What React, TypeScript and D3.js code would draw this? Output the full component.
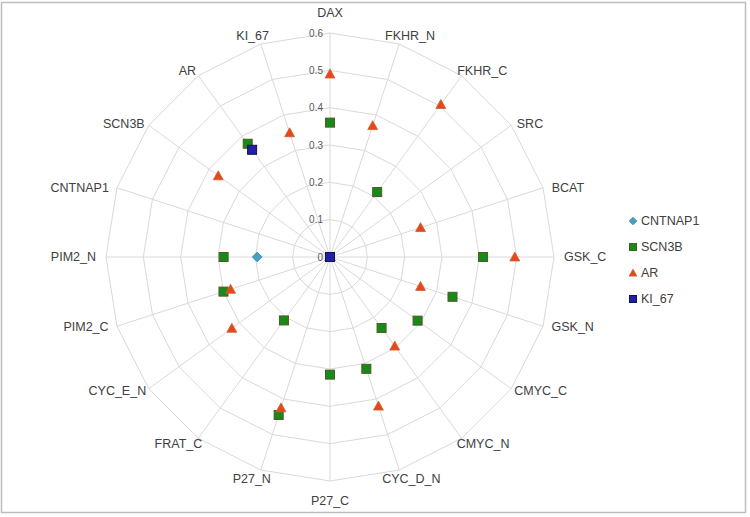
import React, { useEffect, useRef } from "react";
import * as d3 from "d3";

const axes = [
  "DAX", "FKHR_N", "FKHR_C", "SRC", "BCAT", "GSK_C", "GSK_N", "CMYC_C", "CMYC_N", "CYC_D_N",
  "P27_C", "P27_N", "FRAT_C", "CYC_E_N", "PIM2_C", "PIM2_N", "CNTNAP1", "SCN3B", "AR", "KI_67",
];
const ticks = [0, 0.1, 0.2, 0.3, 0.4, 0.5, 0.6];

const cntnap1 = [0, 0, 0, 0, 0, 0, 0, 0, 0, 0, 0, 0, 0, 0, 0, 0.195, 0, 0, 0, 0];
const scn3b = [0.36, 0, 0.215, 0, 0, 0.41, 0.345, 0.29, 0.235, 0.315, 0.315, 0.445, 0.21, 0, 0.3, 0.285, 0, 0, 0.375, 0];
const ar = [0.49, 0.37, 0.505, 0, 0.255, 0.495, 0.255, 0, 0.295, 0.42, 0, 0.425, 0, 0.325, 0.28, 0, 0, 0.37, 0, 0.35];
const ki67 = [0, 0, 0, 0, 0, 0, 0, 0, 0, 0, 0, 0, 0, 0, 0, 0, 0, 0, 0.355, 0];

const seriesNames = ["CNTNAP1", "SCN3B", "AR", "KI_67"];
const seriesValues = [cntnap1, scn3b, ar, ki67];

const App = () => {
  const svgRef = useRef<SVGSVGElement>(null);

  useEffect(() => {
    const width = 750;
    const height = 517;
    const cx = 330;
    const cy = 257;
    const R = 224;
    const font = "'Liberation Sans', Arial, sans-serif";

    const svg = d3.select(svgRef.current)
      .attr("width", width)
      .attr("height", height);
    svg.selectAll("*").remove();

    svg.append("rect")
      .attr("x", 1.5).attr("y", 2.5)
      .attr("width", 744).attr("height", 510)
      .attr("fill", "#fff")
      .attr("stroke", "#bdbdbd")
      .attr("stroke-width", 1.5);

    const r = d3.scaleLinear().domain([0, 0.6]).range([0, R]);
    const angle = d3.scaleLinear().domain([0, axes.length]).range([0, 2 * Math.PI]);

    const g = svg.append("g").attr("transform", `translate(${cx},${cy})`);

    // rings
    const ring = d3.lineRadial<number>()
      .angle((_, i) => angle(i))
      .radius(d => r(d))
      .curve(d3.curveLinearClosed);
    ticks.slice(1).forEach(t => {
      g.append("path")
        .datum(axes.map(() => t))
        .attr("d", ring)
        .attr("fill", "none")
        .attr("stroke", "#d9d9d9")
        .attr("stroke-width", 1);
    });

    // spokes
    axes.forEach((_, i) => {
      const a = angle(i);
      g.append("line")
        .attr("x1", 0).attr("y1", 0)
        .attr("x2", r(0.6) * Math.sin(a))
        .attr("y2", -r(0.6) * Math.cos(a))
        .attr("stroke", "#d9d9d9")
        .attr("stroke-width", 1);
    });

    // tick labels
    ticks.forEach(t => {
      g.append("text")
        .attr("x", -7)
        .attr("y", -r(t))
        .attr("dy", "0.35em")
        .attr("text-anchor", "end")
        .attr("font-family", font)
        .attr("font-size", 10)
        .attr("fill", "#595959")
        .text(t === 0 ? "0" : t.toFixed(1));
    });

    // axis labels
    axes.forEach((name, i) => {
      const a = angle(i);
      const s = Math.sin(a);
      const c = Math.cos(a);
      const t = g.append("text")
        .attr("text-anchor", "middle")
        .attr("dy", "0.35em")
        .attr("font-family", font)
        .attr("font-size", 12.5)
        .attr("fill", "#404040")
        .text(name);
      const w = (t.node() as SVGTextElement).getComputedTextLength();
      const vx = R * s;
      const vy = -R * c;
      const offY = Math.abs(c) > 0.99 ? c * 20 : Math.sign(c) * Math.pow(Math.abs(c), 3) * 10;
      t.attr("x", vx + s * (w / 2 + 10)).attr("y", vy - offY);
    });

    const pt = (v: number, i: number): [number, number] => [
      r(v) * Math.sin(angle(i)),
      -r(v) * Math.cos(angle(i)),
    ];

    const drawMarker = (sel: any, k: number, size: number) => {
      if (k === 0) {
        const s = size * 0.55;
        sel.append("path")
          .attr("d", `M0,${-s}L${s},0L0,${s}L${-s},0Z`)
          .attr("fill", "#4a9fc2").attr("stroke", "#3b8aa8").attr("stroke-width", 0.8);
      } else if (k === 1) {
        sel.append("rect")
          .attr("x", -size / 2).attr("y", -size / 2)
          .attr("width", size).attr("height", size)
          .attr("fill", "#178a17").attr("stroke", "#4b5a22").attr("stroke-width", 1);
      } else if (k === 2) {
        const s = size * 0.55;
        sel.append("path")
          .attr("d", `M0,${-s}L${s},${s * 0.8}L${-s},${s * 0.8}Z`)
          .attr("fill", "#e8461b").attr("stroke", "#c8612e").attr("stroke-width", 0.8);
      } else {
        sel.append("rect")
          .attr("x", -size / 2).attr("y", -size / 2)
          .attr("width", size).attr("height", size)
          .attr("fill", "#2121a6").attr("stroke", "#101050").attr("stroke-width", 1);
      }
    };

    // points
    seriesValues.forEach((vals, k) => {
      vals.forEach((v, i) => {
        const [x, y] = pt(v, i);
        const m = g.append("g").attr("transform", `translate(${x},${y})`);
        drawMarker(m, k, 9);
      });
    });

    // legend
    const legend = svg.append("g").attr("transform", "translate(633,221)");
    seriesNames.forEach((name, k) => {
      const row = legend.append("g").attr("transform", `translate(0,${k * 26})`);
      drawMarker(row, k, 7);
      row.append("text")
        .attr("x", 8)
        .attr("dy", "0.35em")
        .attr("font-family", font)
        .attr("font-size", 12.5)
        .attr("fill", "#404040")
        .text(name);
    });
  }, []);

  return (
    <svg ref={svgRef} style={{ position: "absolute", left: 0, top: 0 }}></svg>
  );
};

export default App;
